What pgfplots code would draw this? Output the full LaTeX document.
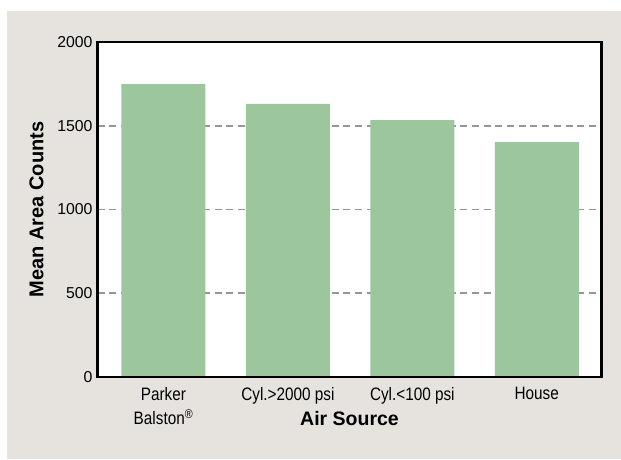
\documentclass[border=0pt]{standalone}
\usepackage{fontspec}
\setmainfont{Liberation Sans}
\newfontfamily\condfont[FakeStretch=0.85]{Liberation Sans}
\usepackage{pgfplots}
\pgfplotsset{compat=1.18}
\definecolor{bgray}{RGB}{230,227,223}
\definecolor{barg}{RGB}{156,199,157}
\definecolor{gridg}{RGB}{150,150,150}
\begin{document}
\begin{tikzpicture}
\useasboundingbox (0,0) rectangle (621pt,459pt);
\fill[white] (0,0) rectangle (621pt,459pt);
\fill[bgray] (7pt,0) rectangle (621pt,448pt);
\begin{axis}[
  at={(97.5pt,82pt)}, anchor=south west,
  scale only axis, width=504pt, height=335pt,
  xmin=-0.53, xmax=3.52, ymin=0, ymax=2000,
  axis background/.style={fill=white},
  axis line style={line width=2.6pt, black},
  ybar, bar width=84pt,
  xtick={0,1,2,3},
  xticklabels={{Parker\\Balston\textsuperscript{®}}, {Cyl.>2000 psi}, {Cyl.<100 psi}, {House}},
  ytick={0,500,1000,1500,2000},
  major tick length=0pt,
  /pgf/number format/assume math mode=true,
  /pgf/number format/set thousands separator={},
  yticklabel style={font=\fontsize{15.8}{18}\selectfont, text=black, xshift=-1.5pt},
  xticklabel style={font=\condfont\fontsize{18}{24}\selectfont, text=black, align=center, anchor=north, yshift=-7pt},
  ymajorgrids,
  grid style={gridg, line width=1.8pt, dash pattern=on 7pt off 4.7pt},
  ylabel={Mean Area Counts},
  ylabel style={font=\bfseries\fontsize{20}{22}\selectfont, at={(axis description cs:-0.121,0.5)}, anchor=center},
  xlabel={Air Source},
  xlabel style={font=\bfseries\fontsize{19.5}{22}\selectfont, at={(axis description cs:0.5,0)}, anchor=base, yshift=-48pt},
]
\addplot[fill=barg, draw=none] coordinates {(0,1749) (1,1630) (2,1534) (3,1403)};
\draw[line width=2.6pt, black] (rel axis cs:0,0) rectangle (rel axis cs:1,1);
\end{axis}
\end{tikzpicture}
\end{document}
